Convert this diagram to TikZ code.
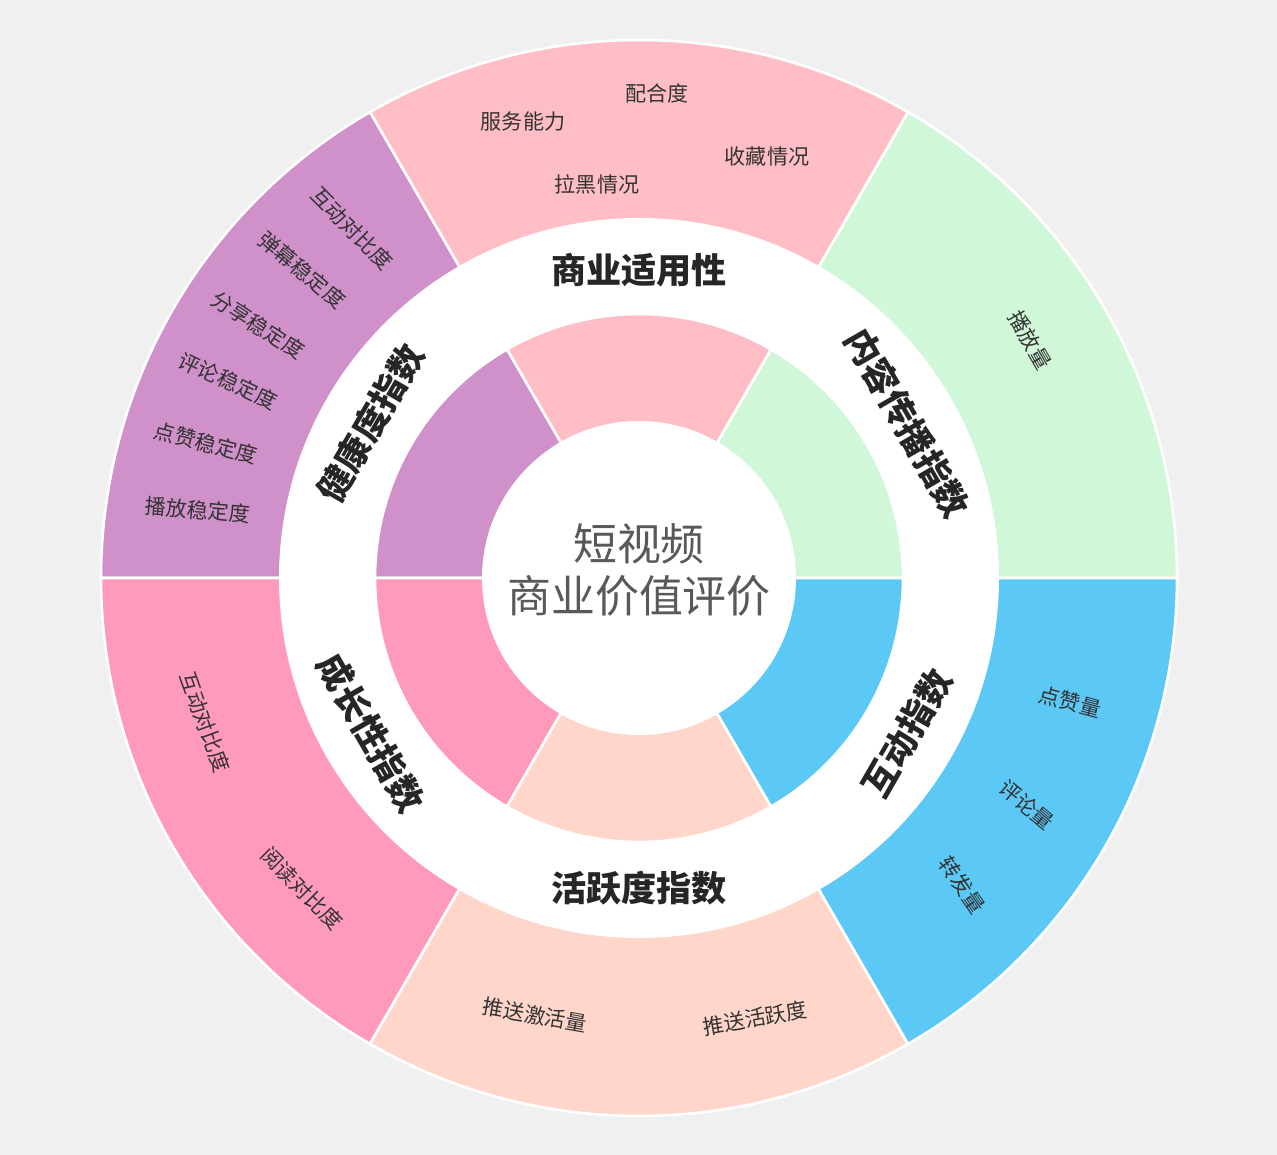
\documentclass[tikz,border=0pt]{standalone}
\usepackage{fontspec}
\setmainfont{Noto Sans CJK SC}
\usetikzlibrary{positioning}
\definecolor{bgcol}{HTML}{F0F0F0}
\definecolor{colbiz}{HTML}{FFBEC6}
\definecolor{colcont}{HTML}{CFF7D8}
\definecolor{colint}{HTML}{5CC8F6}
\definecolor{colact}{HTML}{FFD6C9}
\definecolor{colgrow}{HTML}{FF9ABA}
\definecolor{colhealth}{HTML}{D090CA}
\tikzset{
    dimlabel/.style={font=\fontsize{20}{22}\selectfont\bfseries, text=black!85},
    itemlabel/.style={font=\fontsize{12}{14}\selectfont, text=black!80, inner sep=1pt},
}
\begin{document}
\begin{tikzpicture}[x=0.02cm,y=0.02cm]

 % background
 \fill[bgcol] (-639,-577) rectangle (638,578);

 % sectors: start angle / colour
 \foreach \a/\c in {0/colcont,60/colbiz,120/colhealth,180/colgrow,240/colact,300/colint}{
   \fill[\c,draw=white,line width=1.5pt] (0,0) -- (\a:538) arc (\a:\a+60:538) -- cycle;
 }
 \fill[white] (0,0) circle (360);
 \foreach \a/\c in {0/colcont,60/colbiz,120/colhealth,180/colgrow,240/colact,300/colint}{
   \fill[\c,draw=white,line width=1.5pt] (0,0) -- (\a:264) arc (\a:\a+60:264) -- cycle;
 }
 \fill[white] (0,0) circle (157);

 % centre title
 \node[font=\fontsize{25}{30}\selectfont, text=black!65, align=center] (title) at (0,8) {短视频\\商业价值评价};

 % dimension labels
 \node[dimlabel] (biz) at (90:308) {商业适用性};
 \node[dimlabel, rotate=-60] (cont) at (30:310) {内容传播指数};
 \node[dimlabel, rotate=60] (inter) at (-30:310) {互动指数};
 \node[dimlabel] (act) at (-90:310) {活跃度指数};
 \node[dimlabel, rotate=-60] (grow) at (210:310) {成长性指数};
 \node[dimlabel, rotate=60] (health) at (150:310) {健康度指数};

 % item labels
 \node[itemlabel] (b1) at (-116,456) {服务能力};
 \node[itemlabel] (b2) at (18,485) {配合度};
 \node[itemlabel] (b3) at (128,421) {收藏情况};
 \node[itemlabel] (b4) at (-42,394) {拉黑情况};
 \node[itemlabel, rotate=-60] (c1) at (391,238) {播放量};
 \node[itemlabel, rotate=-15] (i1) at (431,-124) {点赞量};
 \node[itemlabel, rotate=-40] (i2) at (388,-227) {评论量};
 \node[itemlabel, rotate=-55] (i3) at (323,-307) {转发量};
 \node[itemlabel, rotate=-10] (a1) at (-104,-437) {推送激活量};
 \node[itemlabel, rotate=10] (a2) at (116,-440) {推送活跃度};
 \node[itemlabel, rotate=-70] (g1) at (-434,-144) {互动对比度};
 \node[itemlabel, rotate=-45] (g2) at (-337,-310) {阅读对比度};
 \node[itemlabel, rotate=-45] (h1) at (-287,350) {互动对比度};
 \node[itemlabel, rotate=-40] (h2) at (-337,308) {弹幕稳定度};
 \node[itemlabel, rotate=-33] (h3) at (-381,253) {分享稳定度};
 \node[itemlabel, rotate=-25] (h4) at (-411,197) {评论稳定度};
 \node[itemlabel, rotate=-15] (h5) at (-433,135) {点赞稳定度};
 \node[itemlabel, rotate=-5] (h6) at (-441,68) {播放稳定度};
\end{tikzpicture}
\end{document}
